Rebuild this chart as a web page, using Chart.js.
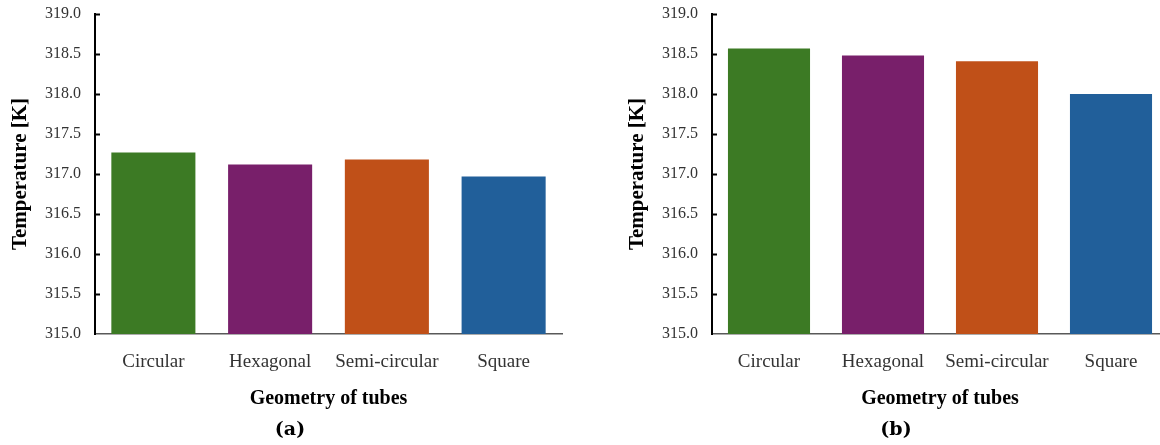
<!DOCTYPE html>
<html lang="en">
<head>
  <meta charset="UTF-8">
  <title>Temperature by tube geometry</title>
  <script src="https://cdn.jsdelivr.net/npm/chart.js"></script>
  <style>
    html, body { margin: 0; padding: 0; background: #fff; overflow: hidden; }
    body { width: 1160px; height: 445px; position: relative; }
    canvas { position: absolute; top: 0; }
    .cap { position: absolute; top: 417px; font: bold 19px "DejaVu Serif", serif; color: #000; transform: translateX(-50%); }
  </style>
</head>
<body>
  <canvas id="chartA" width="580" height="445" style="left:0"></canvas>
  <canvas id="chartB" width="600" height="445" style="left:580px"></canvas>
  <div class="cap" style="left:290px">(a)</div>
  <div class="cap" style="left:896px">(b)</div>

  <script>
    // data
    const categories = ['Circular', 'Hexagonal', 'Semi-circular', 'Square'];
    const tempA = [317.27, 317.12, 317.18, 316.97];
    const tempB = [318.57, 318.48, 318.41, 318.00];
    const yMin = 315.0, yMax = 319.0, yStep = 0.5;

    const barColors = ['#3c7a24', '#781f6a', '#c05018', '#215f9a'];

    // small inward tick marks on the y axis
    const innerTicks = {
      id: 'innerTicks',
      afterDraw(chart) {
        const y = chart.scales.y, ctx = chart.ctx;
        const x0 = chart.chartArea.left;
        ctx.save();
        ctx.strokeStyle = '#000';
        ctx.lineWidth = 2;
        y.ticks.forEach(t => {
          if (t.value === yMin) return;
          const py = Math.round(y.getPixelForValue(t.value)) + 0.5;
          ctx.beginPath();
          ctx.moveTo(x0, py);
          ctx.lineTo(x0 + 5, py);
          ctx.stroke();
        });
        ctx.restore();
      }
    };

    function makeChart(id, values, padLeft, padRight) {
      return new Chart(document.getElementById(id), {
        type: 'bar',
        data: {
          labels: categories,
          datasets: [{
            data: values,
            backgroundColor: barColors,
            categoryPercentage: 1.0,
            barPercentage: 0.72
          }]
        },
        options: {
          responsive: false,
          animation: false,
          layout: { padding: { left: padLeft, right: padRight, top: 14, bottom: 0 } },
          plugins: { legend: { display: false }, tooltip: { enabled: false } },
          scales: {
            x: {
              offset: true,
              grid: { display: false, drawTicks: false },
              border: { display: true, color: '#595959', width: 1.5 },
              ticks: {
                padding: 17,
                color: '#333',
                font: { family: 'Liberation Serif', size: 19 }
              },
              title: {
                display: true,
                text: 'Geometry of tubes',
                color: '#000',
                font: { family: 'Liberation Serif', size: 20, weight: 'bold' },
                padding: { top: 0, bottom: 34 }
              },
              afterFit(scale) { scale.height = 445 - 334; }
            },
            y: {
              min: yMin,
              max: yMax,
              grid: { display: false, drawTicks: false },
              border: { display: true, color: '#000', width: 2 },
              ticks: {
                stepSize: yStep,
                padding: 14,
                color: '#333',
                font: { family: 'Liberation Serif', size: 16 },
                callback: v => Number(v).toFixed(1)
              },
              title: {
                display: true,
                text: 'Temperature [K]',
                color: '#000',
                font: { family: 'Liberation Serif', size: 21, weight: 'bold' },
                padding: { top: 8, bottom: 0 }
              },
              afterFit(scale) {
                scale.width = 95;
                scale.paddingTop = 0;
                scale.paddingBottom = 0;
              }
            }
          }
        },
        plugins: [innerTicks]
      });
    }

    const chartA = makeChart('chartA', tempA, 0, 18);
    const chartB = makeChart('chartB', tempB, 37, 12);
  </script>
</body>
</html>
